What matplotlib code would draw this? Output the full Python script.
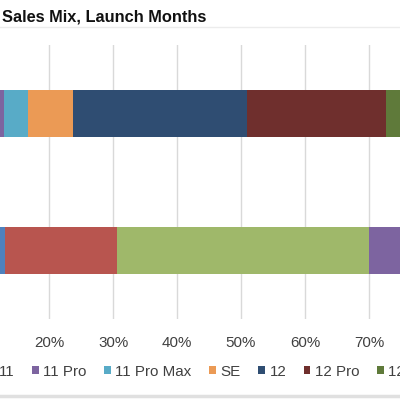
import matplotlib
matplotlib.use("Agg")
import matplotlib.pyplot as plt
import numpy as np

plt.rcParams['font.family'] = ['Liberation Sans', 'DejaVu Sans']

# launch-month windows (bottom bar first)
periods = ["2019", "2020"]

models = ["Older", "XR", "11", "11 Pro", "11 Pro Max", "SE", "12", "12 Pro", "12 Pro Max"]
colors = ["#4f81bd", "#b8554f", "#9fb86a", "#7d64a0", "#58abc7", "#eb9a55",
          "#2f4d72", "#6f2f2d", "#5f7a3a"]

# share of sales, percent, per model: [2019, 2020]
share = {
    "Older":      [13.1, 0.0],
    "XR":         [17.5, 3.0],
    "11":         [39.4, 8.0],
    "11 Pro":     [15.0, 2.0],
    "11 Pro Max": [15.0, 3.7],
    "SE":         [0.0, 7.05],
    "12":         [0.0, 27.15],
    "12 Pro":     [0.0, 21.8],
    "12 Pro Max": [0.0, 27.3],
}

fig = plt.figure(figsize=(4, 4), dpi=100)
W = H = 400.0
ax = fig.add_axes([-79 / W, 1 - 319 / H, 640 / W, 274 / H])

left = np.zeros(len(periods))
for m, c in zip(models, colors):
    vals = np.array(share[m]) / 100.0
    ax.barh(periods, vals, left=left, height=0.35, color=c, label=m, linewidth=0)
    left += vals

ax.set_xlim(0, 1)
ax.set_ylim(-0.5, 1.5)
ax.set_xticks(np.arange(0, 1.01, 0.1))
ax.set_xticklabels([f"{int(round(t * 100))}%" for t in np.arange(0, 1.01, 0.1)],
                   fontsize=10.9, color="#404040")
ax.tick_params(axis="x", length=0, pad=12)
ax.tick_params(axis="y", length=0, labelsize=10.8)
ax.grid(axis="x", color="#d9d9d9", linewidth=1)
ax.set_axisbelow(True)
for s in ax.spines.values():
    s.set_visible(False)

fig.text(2 / W, 1 - 21 / H, "Sales Mix, Launch Months", fontsize=11.8, fontweight="bold",
         ha="left", va="baseline", color="#111111")
fig.add_artist(plt.Line2D([0, 1], [1 - 27 / H, 1 - 27 / H], color="#ececec", lw=1))
fig.add_artist(plt.Line2D([0, 1], [1 - 395.5 / H, 1 - 395.5 / H], color="#e0e0e0", lw=2.5))

leg = fig.legend(loc="center left", bbox_to_anchor=(0, 1 - 371.5 / H), ncol=len(models),
                 frameon=False, fontsize=10.9, handlelength=0.45, handleheight=0.45,
                 handletextpad=0.3, columnspacing=1.15, borderpad=0, borderaxespad=0)
for t in leg.get_texts():
    t.set_color("#404040")

# slide the legend so the "11 Pro" key lands where it sits in the picture
fig.canvas.draw()
r = fig.canvas.get_renderer()
x_now = leg.legend_handles[3].get_window_extent(r).x0
leg.set_bbox_to_anchor(((32 - x_now) / W, 1 - 371.5 / H), transform=fig.transFigure)

fig.savefig("out.png", dpi=100)
